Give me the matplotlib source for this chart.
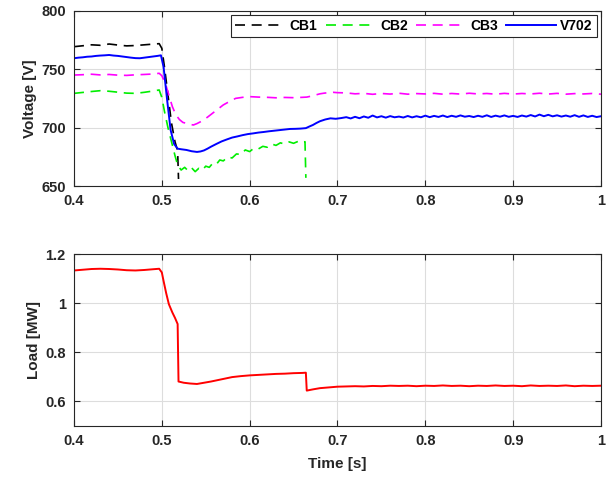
import numpy as np
import matplotlib
matplotlib.use('Agg')
import matplotlib.pyplot as plt
from matplotlib.ticker import FormatStrFormatter

plt.rcParams['font.family'] = ['Liberation Sans', 'DejaVu Sans']
plt.rcParams['font.weight'] = 'bold'
plt.rcParams['axes.labelweight'] = 'bold'

# ---- data ----
# CB1 (black dashed)
t_cb1 = [0.400, 0.410, 0.420, 0.430, 0.440, 0.450, 0.460, 0.470, 0.480, 0.490,
         0.497, 0.500, 0.503, 0.507, 0.511, 0.515, 0.518, 0.519]
v_cb1 = [769.4, 770.2, 771.0, 770.6, 771.7, 770.8, 770.1, 770.4, 771.0, 771.6,
         772.0, 768.0, 752.0, 728.0, 704.0, 688.0, 680.0, 656.0]

# CB2 (green dashed)
t_cb2 = [0.400, 0.410, 0.420, 0.430, 0.440, 0.450, 0.460, 0.470, 0.480, 0.490,
         0.497, 0.500, 0.503, 0.507, 0.511, 0.515, 0.518, 0.522, 0.526, 0.530,
         0.534, 0.538, 0.542, 0.546, 0.550, 0.554, 0.558, 0.562, 0.566, 0.570,
         0.575, 0.580, 0.585, 0.590, 0.595, 0.600, 0.605, 0.610, 0.615, 0.620,
         0.625, 0.630, 0.635, 0.640, 0.645, 0.650, 0.655, 0.660, 0.663, 0.664]
v_cb2 = [729.4, 730.2, 731.0, 731.7, 731.2, 730.4, 729.6, 729.4, 730.3, 731.4,
         732.3, 726.0, 714.0, 700.0, 688.0, 676.0, 668.0, 663.7, 666.0, 663.0,
         665.5, 662.3, 665.1, 663.5, 667.0, 666.0, 669.5, 668.5, 672.3, 671.5,
         675.0, 674.0, 677.5, 677.0, 680.9, 679.5, 682.5, 681.8, 684.0, 683.2,
         686.0, 684.8, 687.0, 685.9, 687.8, 686.6, 688.2, 687.1, 688.0, 657.0]

# CB3 (magenta dashed)
t_cb3 = [0.400, 0.410, 0.420, 0.430, 0.440, 0.450, 0.460, 0.470, 0.480, 0.490,
         0.497, 0.500, 0.504, 0.508, 0.512, 0.516, 0.520, 0.524, 0.528, 0.532,
         0.536, 0.540, 0.546, 0.552, 0.558, 0.564, 0.570, 0.576, 0.584, 0.592,
         0.600, 0.610, 0.620, 0.630, 0.640, 0.650, 0.660, 0.665, 0.670, 0.675,
         0.680, 0.685, 0.690, 0.695, 0.700]
v_cb3 = [745.1, 745.4, 745.8, 745.2, 745.6, 745.0, 744.8, 745.3, 745.6, 746.0,
         746.6, 744.5, 738.0, 728.0, 718.0, 711.0, 707.0, 704.5, 703.7, 702.8,
         702.3, 703.5, 705.8, 709.0, 712.5, 716.0, 719.5, 722.0, 725.1, 726.0,
         726.6, 726.2, 726.0, 725.6, 725.9, 725.7, 726.0, 726.2, 727.0, 728.0,
         729.0, 729.6, 730.0, 730.3, 730.0]
t_cb3_tail = [round(0.71 + 0.01 * i, 3) for i in range(30)]
v_cb3_tail = [729.8, 729.0, 729.4, 728.6, 729.3, 728.8, 729.5, 728.7, 729.2, 728.9,
              729.4, 728.7, 729.3, 728.8, 729.5, 728.9, 729.3, 728.7, 729.4, 728.8,
              729.3, 728.9, 729.5, 728.8, 729.4, 728.7, 729.2, 728.9, 729.3, 728.7]

# V702 (blue solid)
t_v702 = [0.400, 0.405, 0.410, 0.415, 0.420, 0.425, 0.430, 0.435, 0.440, 0.445,
          0.450, 0.455, 0.460, 0.465, 0.470, 0.475, 0.480, 0.485, 0.490, 0.495,
          0.499, 0.502, 0.506, 0.510, 0.514, 0.518, 0.522, 0.528, 0.534, 0.540,
          0.544, 0.548, 0.552, 0.556, 0.562, 0.568, 0.574, 0.580, 0.586, 0.592,
          0.598, 0.604, 0.610, 0.616, 0.622, 0.628, 0.634, 0.640, 0.646, 0.652,
          0.658, 0.664, 0.668, 0.672, 0.676, 0.680, 0.686, 0.692, 0.698, 0.704]
v_v702 = [759.5, 760.0, 760.3, 760.8, 761.0, 761.5, 761.8, 762.0, 762.3, 761.8,
          761.5, 761.0, 760.5, 760.0, 759.6, 759.5, 760.0, 760.5, 761.0, 761.5,
          762.0, 752.0, 724.0, 698.0, 686.0, 682.0, 681.5, 680.9, 679.8, 679.2,
          679.6, 680.5, 682.0, 683.7, 686.0, 688.2, 689.9, 691.5, 692.5, 693.6,
          694.5, 695.1, 695.8, 696.3, 696.9, 697.4, 697.9, 698.4, 698.9, 699.0,
          699.2, 699.6, 701.0, 702.3, 704.0, 705.5, 707.0, 708.0, 707.6, 708.2]
t_v702_tail = [round(0.71 + 0.005 * i, 3) for i in range(59)]
v_v702_tail = [709.0, 707.9, 709.3, 708.1, 709.6, 708.5, 710.4, 708.8, 709.8, 708.6,
               709.9, 708.9, 709.5, 708.7, 710.0, 708.8, 709.8, 708.9, 710.3, 709.0,
               710.1, 709.2, 710.4, 709.1, 710.2, 709.3, 710.5, 709.4, 710.0, 709.1,
               710.2, 709.3, 710.6, 709.2, 710.3, 709.4, 710.5, 709.3, 710.1, 709.2,
               710.4, 709.5, 710.8, 709.6, 711.2, 709.8, 711.0, 709.7, 710.6, 709.5,
               710.4, 709.4, 710.7, 709.3, 710.5, 709.2, 710.2, 709.1, 709.8]

# Load (red)
t_load = [0.400, 0.410, 0.420, 0.430, 0.440, 0.450, 0.460, 0.470, 0.480, 0.490,
          0.497, 0.500, 0.502, 0.505, 0.508, 0.512, 0.515, 0.518, 0.519, 0.525,
          0.532, 0.540, 0.548, 0.556, 0.564, 0.572, 0.580, 0.590, 0.600, 0.610,
          0.620, 0.630, 0.640, 0.650, 0.660, 0.664, 0.665, 0.672, 0.680, 0.690]
v_load = [1.133, 1.136, 1.139, 1.140, 1.139, 1.137, 1.134, 1.133, 1.135, 1.138,
          1.140, 1.125, 1.090, 1.040, 0.996, 0.962, 0.940, 0.915, 0.681, 0.676,
          0.673, 0.671, 0.676, 0.681, 0.687, 0.693, 0.699, 0.703, 0.706, 0.708,
          0.710, 0.712, 0.713, 0.715, 0.716, 0.717, 0.644, 0.649, 0.654, 0.657]
t_load_tail = [round(0.70 + 0.01 * i, 3) for i in range(31)]
v_load_tail = [0.660, 0.661, 0.662, 0.661, 0.663, 0.662, 0.664, 0.663, 0.664, 0.662,
               0.664, 0.663, 0.665, 0.663, 0.664, 0.662, 0.664, 0.663, 0.665, 0.663,
               0.664, 0.662, 0.665, 0.663, 0.664, 0.663, 0.665, 0.662, 0.664, 0.663,
               0.664]

x_ticks = [0.4, 0.5, 0.6, 0.7, 0.8, 0.9, 1.0]
v_ticks = [650, 700, 750, 800]
p_ticks = [0.6, 0.8, 1.0, 1.2]

# ---- figure ----
fig = plt.figure(figsize=(6.11, 4.82), dpi=100)
ax1 = fig.add_axes([0.1211, 0.6141, 0.8625, 0.3631])
ax2 = fig.add_axes([0.1211, 0.1162, 0.8625, 0.3568])

dash = (6, 4)
ax1.plot(t_cb1, v_cb1, color='k', lw=1.2, dashes=dash, label='CB1')
ax1.plot(t_cb2, v_cb2, color='#00ee00', lw=1.2, dashes=dash, label='CB2')
ax1.plot(t_cb3 + t_cb3_tail, v_cb3 + v_cb3_tail, color='#ff00ff', lw=1.2,
         dashes=dash, label='CB3')
ax1.plot(t_v702 + t_v702_tail, v_v702 + v_v702_tail, color='#0000ff', lw=1.4,
         label='V702')
ax2.plot(t_load + t_load_tail, v_load + v_load_tail, color='#ff0000', lw=1.4)

for ax in (ax1, ax2):
    ax.set_xlim(0.4, 1.0)
    ax.set_xticks(x_ticks)
    ax.xaxis.set_major_formatter(FormatStrFormatter('%g'))
    ax.yaxis.set_major_formatter(FormatStrFormatter('%g'))
    ax.grid(True, color='#dddddd', lw=0.8)
    ax.set_axisbelow(True)
    ax.tick_params(direction='in', top=True, right=True, length=4,
                   labelsize=10.5, colors='#262626', width=0.8, pad=6)
    for lab in ax.get_xticklabels() + ax.get_yticklabels():
        lab.set_fontweight('bold')
    for s in ax.spines.values():
        s.set_color('#262626')
        s.set_linewidth(0.8)

ax1.set_ylim(650, 800)
ax1.set_yticks(v_ticks)
ax1.set_ylabel('Voltage [V]', fontsize=11, color='#262626', labelpad=3)
leg = ax1.legend(ncol=4, loc='upper right', handlelength=3.6,
                 columnspacing=0.6, handletextpad=0.3, borderpad=0.3,
                 fancybox=False, framealpha=1, edgecolor='#262626',
                 borderaxespad=0.3, prop={'weight': 'bold', 'size': 10})
leg.get_frame().set_linewidth(0.8)

ax2.set_ylim(0.5, 1.2)
ax2.set_yticks(p_ticks)
ax2.set_ylabel('Load [MW]', fontsize=11, color='#262626', labelpad=3)
ax2.set_xlabel('Time [s]', fontsize=11, color='#262626', labelpad=6)

fig.savefig('out.png', dpi=100)
